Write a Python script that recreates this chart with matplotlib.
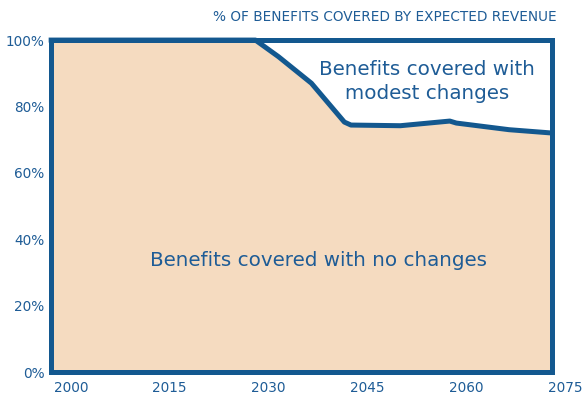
import matplotlib
matplotlib.use("Agg")
import matplotlib.pyplot as plt

# Share of scheduled benefits covered by expected revenue, in percent
years = [1997, 2028, 2031.5, 2036.5, 2041.5, 2042.5, 2050, 2057.5, 2058.5, 2066.5, 2073]
covered = [100, 100, 95, 87, 75.3, 74.4, 74.2, 75.6, 75.0, 73.0, 72.0]
full = [100] * len(years)

x_ticks = [2000, 2015, 2030, 2045, 2060, 2075]
y_ticks = [0, 20, 40, 60, 80, 100]
y_labels = ["0%", "20%", "40%", "60%", "80%", "100%"]

blue = "#13588f"
text_blue = "#1e5c96"
peach = "#f5dbc0"

fig = plt.figure(figsize=(5.85, 4.0), dpi=100)
ax = fig.add_axes([0.0762, 0.0617, 0.901, 0.863])

ax.fill_between(years, 0, covered, color=peach, lw=0, zorder=1)
ax.fill_between(years, covered, full, color="white", lw=0, zorder=1)

# outline of the whole region
ax.plot([years[0], years[-1], years[-1], years[0], years[0]],
        [0, 0, 100, 100, 0], color=blue, lw=3.6,
        solid_joinstyle="miter", zorder=3)
ax.plot(years, covered, color=blue, lw=3.6, solid_joinstyle="round", zorder=3)

ax.set_xlim(1996, 2076)
ax.set_ylim(-1, 103)
ax.set_xticks(x_ticks)
ax.set_yticks(y_ticks)
ax.set_yticklabels(y_labels)
ax.tick_params(length=0, colors=text_blue, labelsize=9.8, pad=4)
ax.tick_params(axis="y", pad=0)
for s in ax.spines.values():
    s.set_visible(False)

ax.text(2037.6, 33.7, "Benefits covered with no changes", color=text_blue,
        fontsize=14.3, ha="center", va="center", zorder=4)
ax.text(2054, 87.5, "Benefits covered with\nmodest changes", color=text_blue,
        fontsize=14.3, ha="center", va="center", linespacing=1.38, zorder=4)

fig.text(0.952, 0.958, "% OF BENEFITS COVERED BY EXPECTED REVENUE",
         color=text_blue, fontsize=9.8, ha="right", va="center")

fig.savefig("out.png", dpi=100)
